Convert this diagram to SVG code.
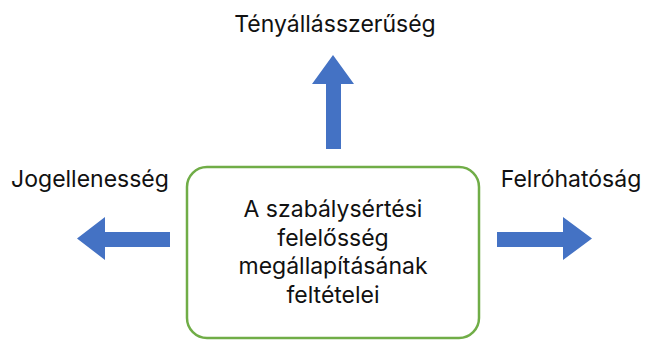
<svg xmlns="http://www.w3.org/2000/svg" width="648" height="340" viewBox="0 0 648 340">
<style>
text{font-family:Inter,"Open Sans",sans-serif;font-size:23px;fill:#111;text-anchor:middle}
.arr{fill:#4472C4}
</style>
<rect width="648" height="340" fill="#fff"/>
<g id="center">
<rect x="187" y="167" width="292" height="171" rx="20" fill="#fff" stroke="#70AD47" stroke-width="2.5"/>
<text x="333" y="216.5">A szabálysértési</text>
<text x="333" y="245.5">felelősség</text>
<text x="333" y="274">megállapításának</text>
<text x="333" y="302.5">feltételei</text>
</g>
<g id="top"><text x="335" y="32">Tényállásszerűség</text></g>
<g id="left"><text x="90" y="187">Jogellenesség</text></g>
<g id="right"><text x="571" y="187">Felróhatóság</text></g>
<g id="connectors">
<polygon class="arr" points="326,149 326,84 312,84 333,55 354,84 341,84 341,149"/>
<polygon class="arr" points="170,232 105,232 105,217 77,238.5 105,260 105,247 170,247"/>
<polygon class="arr" points="497,232 563,232 563,217 592,238.5 563,260 563,247 497,247"/>
</g>
</svg>
